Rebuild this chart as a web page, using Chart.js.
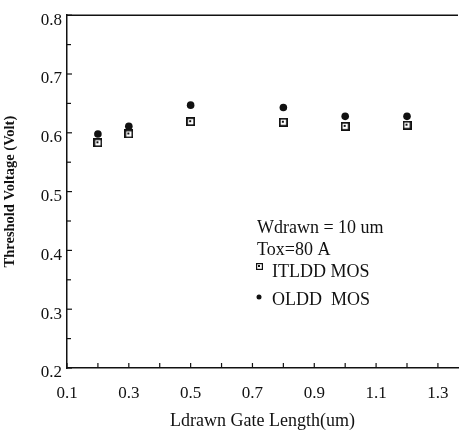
<!DOCTYPE html>
<html>
<head>
<meta charset="utf-8">
<script src="https://cdn.jsdelivr.net/npm/chart.js@4.4.1/dist/chart.umd.min.js"></script>
<style>
  html, body { margin: 0; padding: 0; background: #fff; }
  #wrap { width: 468px; height: 434px; }
</style>
</head>
<body>
<div id="wrap"><canvas id="c" width="468" height="434"></canvas></div>
<script>
// ---- data ----
const gateLength = [0.2, 0.3, 0.5, 0.8, 1.0, 1.2];
const itlddVth   = [0.583, 0.598, 0.619, 0.618, 0.611, 0.613];
const olddVth    = [0.598, 0.611, 0.647, 0.643, 0.628, 0.628];
const xTicks = [0.1, 0.2, 0.3, 0.4, 0.5, 0.6, 0.7, 0.8, 0.9, 1.0, 1.1, 1.2, 1.3];
const xTickLabels = ['0.1', '', '0.3', '', '0.5', '', '0.7', '', '0.9', '', '1.1', '', '1.3'];
const yTicks = [0.2, 0.25, 0.3, 0.35, 0.4, 0.45, 0.5, 0.55, 0.6, 0.65, 0.7, 0.75, 0.8];
const yTickLabels = ['0.2', '', '0.3', '', '0.4', '', '0.5', '', '0.6', '', '0.7', '', '0.8'];
const annotationLines = ['Wdrawn = 10 um', 'Tox=80 A'];
const seriesNames = ['ITLDD MOS', 'OLDD  MOS'];

const SERIF = '"Liberation Serif", "DejaVu Serif", serif';
const INK = '#111';

// square marker with small inner dot
function squareMarker(size, lw) {
  const c = document.createElement('canvas');
  c.width = size; c.height = size;
  const g = c.getContext('2d');
  g.fillStyle = '#fff';
  g.fillRect(0, 0, size, size);
  g.strokeStyle = INK;
  g.lineWidth = lw;
  g.strokeRect(lw / 2, lw / 2, size - lw, size - lw);
  g.fillStyle = INK;
  g.fillRect(Math.floor(size / 2) - 1, Math.floor(size / 2) - 1, 2, 2);
  return c;
}
const sqImg = squareMarker(9, 1.8);
const sqSmall = squareMarker(7, 1.2);

const frame = {
  id: 'frame',
  afterDraw(chart) {
    const ctx = chart.ctx;
    const a = chart.chartArea;
    const xs = chart.scales.x, ys = chart.scales.y;
    ctx.save();
    ctx.strokeStyle = INK;
    ctx.lineWidth = 1.5;
    // top border
    ctx.beginPath();
    ctx.moveTo(a.left, a.top);
    ctx.lineTo(a.right, a.top);
    ctx.stroke();
    // inward ticks
    ctx.lineWidth = 1.2;
    yTicks.forEach((v, i) => {
      const y = ys.getPixelForValue(v);
      const len = yTickLabels[i] ? 5 : 4;
      ctx.beginPath();
      ctx.moveTo(a.left, y);
      ctx.lineTo(a.left + len, y);
      ctx.stroke();
    });
    xTicks.forEach((v) => {
      const x = xs.getPixelForValue(v);
      ctx.beginPath();
      ctx.moveTo(x, a.bottom);
      ctx.lineTo(x, a.bottom - 5);
      ctx.stroke();
    });
    // annotation text and key
    ctx.fillStyle = INK;
    ctx.font = '18px ' + SERIF;
    ctx.textBaseline = 'middle';
    ctx.textAlign = 'left';
    const tx = 257;
    ctx.fillText(annotationLines[0], tx, 228);
    ctx.fillText(annotationLines[1], tx, 250);
    ctx.drawImage(sqSmall, 256, 263);
    ctx.fillText(seriesNames[0], 272, 272);
    ctx.beginPath();
    ctx.arc(259, 297, 2.5, 0, Math.PI * 2);
    ctx.fill();
    ctx.fillText(seriesNames[1], 272, 300);
    ctx.restore();
  }
};

new Chart(document.getElementById('c'), {
  type: 'scatter',
  data: {
    datasets: [
      {
        label: seriesNames[0],
        data: gateLength.map((x, i) => ({ x, y: itlddVth[i] })),
        pointStyle: sqImg,
        pointRadius: 4.5,
      },
      {
        label: seriesNames[1],
        data: gateLength.map((x, i) => ({ x, y: olddVth[i] })),
        pointStyle: 'circle',
        pointRadius: 3.8,
        backgroundColor: INK,
        borderColor: INK,
        borderWidth: 0,
      }
    ]
  },
  options: {
    responsive: false,
    animation: false,
    devicePixelRatio: 1,
    layout: { padding: { top: 12, right: 10, left: 0, bottom: 0 } },
    plugins: { legend: { display: false }, tooltip: { enabled: false } },
    scales: {
      x: {
        type: 'linear',
        min: 0.1,
        max: 1.365,
        afterBuildTicks: (s) => { s.ticks = xTicks.map(v => ({ value: v })); },
        afterFit: (s) => { s.height = 66; },
        grid: { display: false, drawTicks: false },
        border: { display: true, color: INK, width: 1.5 },
        ticks: {
          autoSkip: false,
          maxRotation: 0,
          padding: 15,
          color: INK,
          font: { family: SERIF, size: 17 },
          callback: (v, i) => xTickLabels[i]
        },
        title: {
          display: true,
          text: 'Ldrawn Gate Length(um)',
          color: INK,
          font: { family: SERIF, size: 18 },
          padding: { top: 0, bottom: 2 }
        }
      },
      y: {
        type: 'linear',
        min: 0.2,
        max: 0.8,
        afterBuildTicks: (s) => { s.ticks = yTicks.map(v => ({ value: v })); },
        afterFit: (s) => { s.width = 67; },
        grid: { display: false, drawTicks: false },
        border: { display: true, color: INK, width: 1.5 },
        ticks: {
          autoSkip: false,
          padding: 5,
          labelOffset: 5,
          color: INK,
          font: { family: SERIF, size: 17 },
          callback: (v, i) => yTickLabels[i]
        },
        title: {
          display: true,
          text: 'Threshold Voltage (Volt)',
          color: INK,
          font: { family: SERIF, size: 14.5, weight: 'bold' },
          padding: { top: 2, bottom: 0 }
        }
      }
    }
  },
  plugins: [frame]
});
</script>
</body>
</html>
